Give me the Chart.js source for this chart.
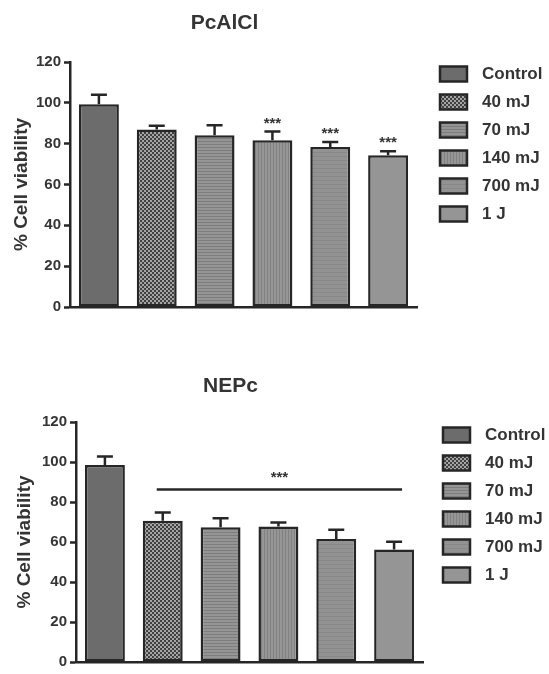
<!DOCTYPE html>
<html>
<head>
<meta charset="utf-8">
<title>Cell viability</title>
<script src="https://cdn.jsdelivr.net/npm/chart.js@4.4.1/dist/chart.umd.min.js"></script>
<style>
  body { margin: 0; background: #fff; }
  #wrap { position: relative; width: 549px; height: 674px; overflow: hidden; }
  canvas { position: absolute; left: 0; }
  #pcChart { top: 0; }
  #nepChart { top: 340px; }
</style>
</head>
<body>
<div id="wrap">
  <canvas id="pcChart" width="549" height="335"></canvas>
  <canvas id="nepChart" width="549" height="334"></canvas>
</div>
<script>
const categories = ['Control', '40 mJ', '70 mJ', '140 mJ', '700 mJ', '1 J'];
const pcalclMeans = [99.3, 87, 84.1, 81.7, 78.4, 74.3];
const pcalclErrors = [4.7, 1.8, 4.9, 4.2, 2.4, 2];
const pcalclStars = ['', '', '', '***', '***', '***'];
const nepcMeans = [98.5, 70.6, 67.4, 67.8, 61.5, 56.3];
const nepcErrors = [4.3, 4.1, 4.5, 2, 4.6, 3.8];
const nepcBracket = { from: 1, to: 5, value: 86.2, label: '***' };
const yTicks = [0, 20, 40, 60, 80, 100, 120];

const ink = '#262626';
const textColor = '#343434';
const fontFamily = '"Liberation Sans", Arial, sans-serif';

// small canvas patterns for the bar fills
function makePattern(w, h, draw) {
    const c = document.createElement('canvas');
    c.width = w; c.height = h;
    draw(c.getContext('2d'));
    return c.getContext('2d').createPattern(c, 'repeat');
}

const fills = [
    '#6c6c6c',
    makePattern(4, 4, g => {
        g.fillStyle = '#a4a4a4'; g.fillRect(0, 0, 4, 4);
        g.fillStyle = '#404040'; g.fillRect(0, 0, 2, 2); g.fillRect(2, 2, 2, 2);
    }),
    makePattern(4, 3, g => {
        g.fillStyle = '#959595'; g.fillRect(0, 0, 4, 3);
        g.fillStyle = '#7d7d7d'; g.fillRect(0, 0, 4, 1);
    }),
    makePattern(3, 4, g => {
        g.fillStyle = '#969696'; g.fillRect(0, 0, 3, 4);
        g.fillStyle = '#818181'; g.fillRect(0, 0, 1, 4);
    }),
    makePattern(4, 4, g => {
        g.fillStyle = '#929292'; g.fillRect(0, 0, 4, 4);
        g.fillStyle = '#888888'; g.fillRect(0, 0, 4, 1);
    }),
    '#959595'
];

const errorBarPlugin = {
    id: 'errorBars',
    afterDatasetsDraw(chart, args, opts) {
        const ctx = chart.ctx;
        const y = chart.scales.y;
        const bars = chart.getDatasetMeta(0).data;
        ctx.save();
        ctx.strokeStyle = ink;
        ctx.lineWidth = 2.5;
        ctx.fillStyle = textColor;
        ctx.font = 'bold 15px ' + fontFamily;
        ctx.textAlign = 'center';
        ctx.textBaseline = 'middle';
        bars.forEach((bar, i) => {
            const top = y.getPixelForValue(opts.means[i] + opts.errors[i]);
            ctx.beginPath();
            ctx.moveTo(bar.x, bar.y);
            ctx.lineTo(bar.x, top);
            ctx.moveTo(bar.x - 8, top);
            ctx.lineTo(bar.x + 8, top);
            ctx.stroke();
            if (opts.stars && opts.stars[i]) {
                ctx.fillText(opts.stars[i], bar.x, top - 8);
            }
        });
        const br = opts.bracket;
        if (br) {
            const a = bars[br.from], b = bars[br.to];
            const ly = y.getPixelForValue(br.value);
            const x1 = a.x - a.width * 0.15, x2 = b.x + b.width * 0.2;
            ctx.beginPath();
            ctx.moveTo(x1, ly);
            ctx.lineTo(x2, ly);
            ctx.stroke();
            ctx.fillText(br.label, (x1 + x2) / 2, ly - 12);
        }
        ctx.restore();
    }
};

const panelTitlePlugin = {
    id: 'panelTitle',
    afterDraw(chart, args, opts) {
        const ctx = chart.ctx;
        const area = chart.chartArea;
        ctx.save();
        ctx.fillStyle = textColor;
        ctx.font = 'bold 21px ' + fontFamily;
        ctx.textAlign = 'center';
        ctx.textBaseline = 'middle';
        ctx.fillText(opts.text, (area.left + area.right) / 2 + opts.shift, opts.y);
        ctx.restore();
    }
};

const sideLegendPlugin = {
    id: 'sideLegend',
    afterDraw(chart, args, opts) {
        const ctx = chart.ctx;
        const ds = chart.data.datasets[0];
        ctx.save();
        ctx.font = 'bold 17px ' + fontFamily;
        ctx.textBaseline = 'middle';
        chart.data.labels.forEach((label, i) => {
            const cy = opts.top + i * opts.gap;
            ctx.fillStyle = ds.backgroundColor[i];
            ctx.fillRect(opts.x, cy - 7.5, 27, 15);
            ctx.strokeStyle = ink;
            ctx.lineWidth = 2.5;
            ctx.strokeRect(opts.x, cy - 7.5, 27, 15);
            ctx.fillStyle = textColor;
            ctx.fillText(label, opts.x + 42, cy);
        });
        ctx.restore();
    }
};

function makeChart(id, cfg) {
    return new Chart(document.getElementById(id), {
        type: 'bar',
        data: {
            labels: categories,
            datasets: [{
                data: cfg.means,
                backgroundColor: fills,
                borderColor: ink,
                borderWidth: 2.5,
                borderSkipped: false,
                barPercentage: 0.69,
                categoryPercentage: 1
            }]
        },
        options: {
            responsive: false,
            animation: false,
            events: [],
            layout: { padding: cfg.padding },
            scales: {
                x: {
                    ticks: { display: false },
                    grid: { display: false, drawTicks: false },
                    border: { display: true, color: ink, width: 2.5 },
                    afterFit(scale) { scale.height = 0; }
                },
                y: {
                    min: yTicks[0],
                    max: yTicks[yTicks.length - 1],
                    ticks: {
                        stepSize: yTicks[1] - yTicks[0],
                        color: textColor,
                        padding: 3,
                        font: { family: fontFamily, size: 15, weight: 'bold' }
                    },
                    grid: {
                        drawOnChartArea: false,
                        drawTicks: true,
                        tickLength: 6,
                        tickWidth: 2.5,
                        color: ink
                    },
                    border: { display: true, color: ink, width: 2.5 },
                    title: {
                        display: true,
                        text: '% Cell viability',
                        color: textColor,
                        font: { family: fontFamily, size: 19, weight: 'bold' },
                        padding: { top: cfg.titlePad, bottom: 0 }
                    },
                    afterFit(scale) { scale.width = cfg.axisX; }
                }
            },
            plugins: {
                legend: { display: false },
                tooltip: { enabled: false },
                errorBars: {
                    means: cfg.means,
                    errors: cfg.errors,
                    stars: cfg.stars,
                    bracket: cfg.bracket
                },
                panelTitle: { text: cfg.title, shift: -19, y: cfg.titleY },
                sideLegend: { x: cfg.legendX, top: cfg.legendTop, gap: 28 }
            }
        },
        plugins: [errorBarPlugin, panelTitlePlugin, sideLegendPlugin]
    });
}

makeChart('pcChart', {
    title: 'PcAlCl',
    titleY: 23,
    means: pcalclMeans,
    errors: pcalclErrors,
    stars: pcalclStars,
    padding: { top: 62, bottom: 28, left: 0, right: 132 },
    axisX: 70,
    titlePad: 10,
    legendX: 440,
    legendTop: 74
});

makeChart('nepChart', {
    title: 'NEPc',
    titleY: 46,
    means: nepcMeans,
    errors: nepcErrors,
    bracket: nepcBracket,
    padding: { top: 82, bottom: 8, left: 0, right: 126 },
    axisX: 76,
    titlePad: 13,
    legendX: 443,
    legendTop: 95
});
</script>
</body>
</html>
